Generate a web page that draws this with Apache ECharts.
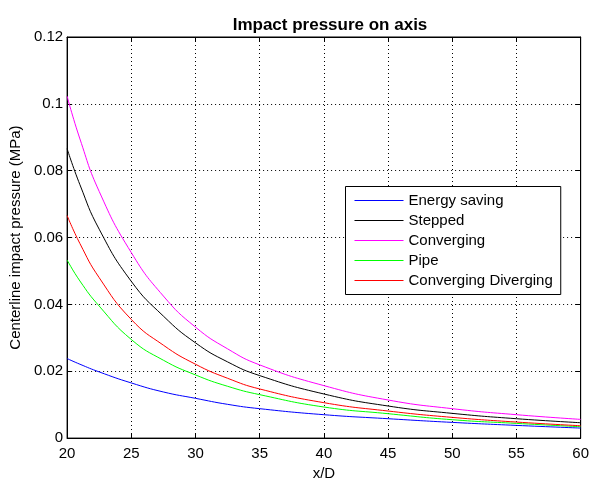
<!DOCTYPE html>
<html>
<head>
<meta charset="utf-8">
<script src="https://cdn.jsdelivr.net/npm/echarts@6/dist/echarts.min.js"></script>
<style>
html,body{margin:0;padding:0;background:#fff;}
#chart{width:592px;height:486px;}
</style>
</head>
<body>
<div id="chart"></div>
<script>
var xValues = [20, 21, 22.5, 25, 27.5, 30, 32.5, 35, 40, 45, 50, 55, 60];
var energySaving = [0.0238, 0.0221, 0.0198, 0.0165, 0.0138, 0.0119, 0.0101, 0.0088, 0.0070, 0.0058, 0.0047, 0.0038, 0.0030];
var stepped = [0.0866, 0.0758, 0.0625, 0.0469, 0.0365, 0.0285, 0.0228, 0.0187, 0.0132, 0.0096, 0.0074, 0.0058, 0.0046];
var converging = [0.1023, 0.0895, 0.0738, 0.0555, 0.0425, 0.0332, 0.0267, 0.0219, 0.0157, 0.0114, 0.0088, 0.0070, 0.0056];
var pipe = [0.0533, 0.0470, 0.0395, 0.0295, 0.0233, 0.0189, 0.0155, 0.0130, 0.0093, 0.0073, 0.0055, 0.0044, 0.0034];
var convergingDiverging = [0.0666, 0.0582, 0.0480, 0.0355, 0.0278, 0.0221, 0.0179, 0.0147, 0.0106, 0.0081, 0.0062, 0.0048, 0.0037];
var seriesNames = ['Energy saving', 'Stepped', 'Converging', 'Pipe', 'Converging Diverging'];
var seriesColors = ['#0000ff', '#000000', '#ff00ff', '#00ff00', '#ff0000'];
var seriesData = [energySaving, stepped, converging, pipe, convergingDiverging];

var FONT = '"Liberation Sans", Arial, sans-serif';
function pairs(ys) { return xValues.map(function (x, i) { return [x, ys[i]]; }); }

var chart = echarts.init(document.getElementById('chart'), null, {renderer: 'canvas'});
var gridLine = {show: true, lineStyle: {color: '#000', type: [1, 3], width: 1}};
var option = {
  backgroundColor: '#fff',
  animation: false,
  textStyle: {fontFamily: FONT},
  title: {
    text: 'Impact pressure on axis',
    left: 325, textAlign: 'center', top: 12,
    textStyle: {fontFamily: FONT, fontSize: 17, fontWeight: 'bold', color: '#000'}
  },
  grid: {left: 67, right: 9, top: 37, bottom: 42, show: true, borderColor: '#000', borderWidth: 1, backgroundColor: 'transparent'},
  legend: {
    orient: 'vertical', left: 345.5, top: 186.5,
    backgroundColor: '#fff', borderColor: '#000', borderWidth: 1,
    padding: [4, 8, 4, 9], itemGap: 0, itemWidth: 49, itemHeight: 1,
    icon: 'rect',
    textStyle: {fontFamily: FONT, fontSize: 15, color: '#000', lineHeight: 20},
    data: seriesNames
  },
  xAxis: [{
    type: 'value', min: 20, max: 60, interval: 5, position: 'bottom',
    name: 'x/D', nameLocation: 'middle', nameGap: 27,
    nameTextStyle: {fontFamily: FONT, fontSize: 15, color: '#000'},
    axisLine: {show: true, onZero: false, lineStyle: {color: '#000'}},
    axisTick: {show: true, inside: true, length: 5, lineStyle: {color: '#000'}},
    axisLabel: {fontFamily: FONT, fontSize: 15, color: '#000', margin: 8},
    splitLine: gridLine
  }, {
    type: 'value', min: 20, max: 60, interval: 5, position: 'top',
    axisLine: {show: true, onZero: false, lineStyle: {color: '#000'}},
    axisTick: {show: true, inside: true, length: 5, lineStyle: {color: '#000'}},
    axisLabel: {show: false}, splitLine: {show: false}
  }],
  yAxis: [{
    type: 'value', min: 0, max: 0.12, interval: 0.02, position: 'left',
    name: 'Centerline impact pressure (MPa)', nameLocation: 'middle', nameGap: 43,
    nameTextStyle: {fontFamily: FONT, fontSize: 15, color: '#000'},
    axisLine: {show: true, onZero: false, lineStyle: {color: '#000'}},
    axisTick: {show: true, inside: true, length: 5, lineStyle: {color: '#000'}},
    axisLabel: {fontFamily: FONT, fontSize: 15, color: '#000', margin: 4},
    splitLine: gridLine
  }, {
    type: 'value', min: 0, max: 0.12, interval: 0.02, position: 'right',
    axisLine: {show: true, onZero: false, lineStyle: {color: '#000'}},
    axisTick: {show: true, inside: true, length: 5, lineStyle: {color: '#000'}},
    axisLabel: {show: false}, splitLine: {show: false}
  }],
  series: seriesNames.map(function (n, i) {
    return {
      name: n, type: 'line', xAxisIndex: 0, yAxisIndex: 0,
      data: pairs(seriesData[i]),
      showSymbol: false, symbol: 'none', smooth: 0.5,
      lineStyle: {color: seriesColors[i], width: 1},
      itemStyle: {color: seriesColors[i]}
    };
  })
};
chart.setOption(option);
</script>
</body>
</html>
